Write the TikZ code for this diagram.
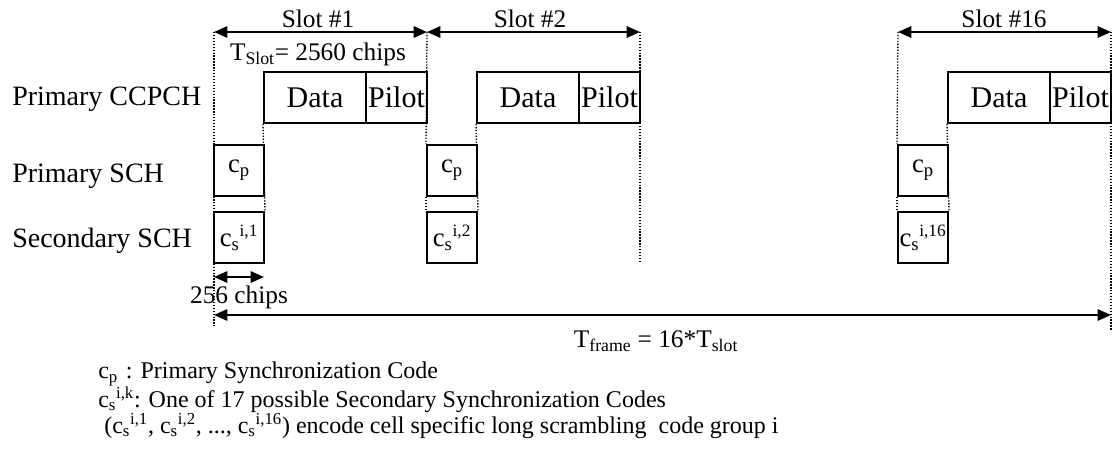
\documentclass[tikz,border=0pt]{standalone}
\usepackage{fontspec}
\setmainfont{Liberation Serif}
\usetikzlibrary{arrows.meta}

\newcommand{\scode}[1]{c\textsubscript{s}\textsuperscript{\fontsize{13}{13}\selectfont #1}}

\tikzset{
  chbox/.style={draw, line width=1.5pt, minimum height=38.25pt, inner sep=0pt, font=\fontsize{22.5}{22.5}\selectfont},
  codebox/.style={chbox, minimum width=37.5pt, font=\fontsize{20}{20}\selectfont},
  guide/.style={line width=1pt, dash pattern=on 1pt off 1.2pt},
  dim/.style={line width=1.5pt, {Triangle[length=10pt,width=8.5pt]}-{Triangle[length=10pt,width=8.5pt]}},
  lbl/.style={inner sep=0pt, font=\fontsize{21}{21}\selectfont},
  slbl/.style={inner sep=0pt, font=\fontsize{19}{19}\selectfont},
  leg/.style={inner sep=0pt, align=left, font=\fontsize{18}{17.25}\selectfont},
}

\begin{document}
\begin{tikzpicture}[x=0.75pt,y=0.75pt,yscale=-1,xscale=1]
\useasboundingbox (0,0) rectangle (1114,454);

% slot borders
\coordinate (t1) at (214,32);
\coordinate (t2) at (427,32);
\coordinate (t3) at (640,32);
\coordinate (t16) at (898,32);
\coordinate (t17) at (1111,32);
\coordinate (b1) at (214,326);
\coordinate (b3) at (640,262);
\coordinate (b17) at (1111,330);

% Primary CCPCH
\node [chbox, minimum width=76.5pt] (data1) at (315,97.5) {Data};
\node [chbox, minimum width=45.75pt] (pilot1) at (396.5,97.5) {Pilot};
\node [chbox, minimum width=76.5pt] (data2) at (528,97.5) {Data};
\node [chbox, minimum width=45.75pt] (pilot2) at (609.5,97.5) {Pilot};
\node [chbox, minimum width=76.5pt] (data16) at (999,97.5) {Data};
\node [chbox, minimum width=45.75pt] (pilot16) at (1080.5,97.5) {Pilot};

% Primary SCH
\node [codebox] (cp1) at (239,170.5) {c\textsubscript{p}};
\node [codebox] (cp2) at (452,170.5) {c\textsubscript{p}};
\node [codebox] (cp16) at (923,170.5) {c\textsubscript{p}};

% Secondary SCH
\node [codebox] (cs1) at (239,237.5) {\scode{i,1}};
\node [codebox] (cs2) at (452,237.5) {\scode{i,2}};
\node [codebox] (cs16) at (923,237.5) {\scode{i,16}};

% dotted guides
\draw [guide] (t1) -- (b1);
\draw [guide] (data1.south west) -- (cs1.north east);
\draw [guide] (t2) -- (cp2.north west);
\draw [guide] (cp2.south west) -- (cs2.north west);
\draw [guide] (data2.south west) -- (cs2.north east);
\draw [guide] (t3) -- (b3);
\draw [guide] (t16) -- (cp16.north west);
\draw [guide] (cp16.south west) -- (cs16.north west);
\draw [guide] (data16.south west) -- (cs16.north east);
\draw [guide] (t17) -- (b17);

% slot arrows
\draw [dim] (t1) -- (t2);
\draw [dim] (t2) -- (t3);
\draw [dim] (t16) -- (t17);
\node [slbl, anchor=base] (slot1) at (318,27) {Slot \#1};
\node [slbl, anchor=base] (slot2) at (530,27) {Slot \#2};
\node [slbl, anchor=base] (slot16) at (1004,27) {Slot \#16};
\node [slbl, anchor=base] (tslot) at (318,60) {T\textsubscript{Slot}= 2560 chips};

% channel names
\node [lbl, anchor=base west] (ccpch) at (12,105) {Primary CCPCH};
\node [lbl, anchor=base west] (psch) at (12,182) {Primary SCH};
\node [lbl, anchor=base west] (ssch) at (12,247) {Secondary SCH};

% 256 chips
\coordinate (c1) at (214,277);
\coordinate (c2) at (264,277);
\draw [dim] (c1) -- (c2);
\node [slbl, anchor=base] (chips) at (239,303) {256 chips};

% frame
\coordinate (f1) at (214,315);
\coordinate (f2) at (1111,315);
\draw [dim] (f1) -- (f2);
\node [slbl, anchor=base] (tframe) at (656,347) {T\textsubscript{frame} = 16*T\textsubscript{slot}};

% legend
\node [leg, anchor=north west] (legend) at (98,362) {\lineskiplimit=-20pt
  c\textsubscript{p}\hspace{6pt}: Primary Synchronization Code\\
  c\textsubscript{s}\textsuperscript{i,k}: One of 17 possible Secondary Synchronization Codes\\
  \hspace*{4.5pt}(c\textsubscript{s}\textsuperscript{i,1}, c\textsubscript{s}\textsuperscript{i,2}, ..., c\textsubscript{s}\textsuperscript{i,16}) encode cell specific long scrambling\ \ code group i};

\end{tikzpicture}
\end{document}
